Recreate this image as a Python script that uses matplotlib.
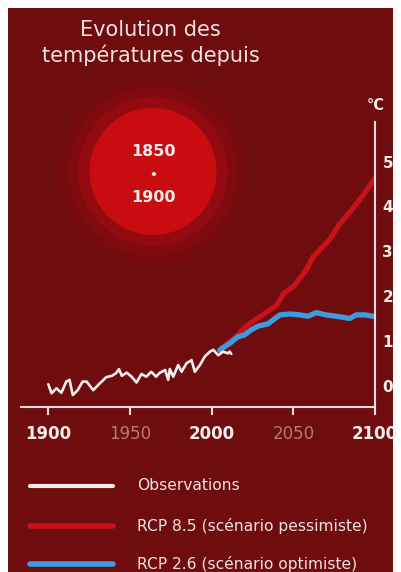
import matplotlib
matplotlib.use("Agg")
import matplotlib.pyplot as plt
from matplotlib.patches import Rectangle, Circle
from matplotlib.lines import Line2D

# ---- data -------------------------------------------------------------
obs_years = [1900, 1902, 1905, 1908, 1911, 1913, 1915, 1918, 1921, 1923.5,
             1927.5, 1931.5, 1935.5, 1939, 1941.5, 1943.3, 1945, 1948, 1951,
             1954, 1957, 1960, 1963, 1966, 1968, 1971.5, 1973.4, 1974.4,
             1976.5, 1979.5, 1981.6, 1984.6, 1987.7, 1989.7, 1992.8, 1995.8,
             1999, 2001, 2004, 2007, 2010, 2011, 2012]
obs_vals = [0.06, -0.14, -0.03, -0.13, 0.12, 0.16, -0.18, -0.07, 0.12, 0.12,
            -0.07, 0.08, 0.22, 0.25, 0.31, 0.40, 0.25, 0.32, 0.23,
            0.10, 0.29, 0.23, 0.34, 0.23, 0.31, 0.38, 0.16, 0.40,
            0.23, 0.49, 0.34, 0.53, 0.60, 0.34, 0.49, 0.68,
            0.79, 0.83, 0.71, 0.79, 0.75, 0.79, 0.74]

rcp85_years = [2005, 2010, 2015, 2020, 2024, 2030, 2034, 2040, 2044, 2050,
               2054, 2058, 2062, 2068, 2072, 2078, 2084, 2090, 2095, 2100]
rcp85_vals = [0.83, 0.98, 1.12, 1.32, 1.43, 1.58, 1.68, 1.83, 2.09, 2.24,
              2.42, 2.62, 2.90, 3.13, 3.28, 3.62, 3.88, 4.15, 4.40, 4.66]

rcp26_years = [2005, 2011, 2016, 2020, 2024, 2028.5, 2034.5, 2037.7, 2041.8,
               2048, 2054, 2059, 2064, 2070, 2078, 2084.5, 2088.5, 2094, 2100]
rcp26_vals = [0.83, 0.97, 1.12, 1.16, 1.27, 1.36, 1.41, 1.50, 1.61,
              1.63, 1.61, 1.58, 1.66, 1.61, 1.57, 1.53, 1.61, 1.61, 1.57]

x_ticks = [1900, 1950, 2000, 2050, 2100]
x_tick_bold = [True, False, True, False, True]
y_ticks = [0, 1, 2, 3, 4, 5]

series_labels = ["Observations",
                 "RCP 8.5 (scénario pessimiste)",
                 "RCP 2.6 (scénario optimiste)"]
title_lines = ["Evolution des", "températures depuis"]
badge_lines = ["1850", "•", "1900"]
unit_label = "°C"

# ---- style ------------------------------------------------------------
BG = "#6f0c0d"
WHITE = "#f6ecec"
AXIS = "#eedcdc"
MUTED = "#b57a7a"
RED = "#c8111a"
BLUE = "#3d9be0"

W, H = 401, 572
DPI = 100
fig = plt.figure(figsize=(W / DPI, H / DPI), dpi=DPI, facecolor="white")

# pixel-space layer for the backdrop, badge, title and legend
bg = fig.add_axes([0, 0, 1, 1], zorder=0)
bg.set_xlim(0, W)
bg.set_ylim(H, 0)
bg.axis("off")
bg.add_patch(Rectangle((7.5, 7.5), 385.5, H, facecolor=BG, edgecolor="none"))

# glowing badge
cx, cy = 153, 171.5
for r, c in [(95, "#750b0e"), (84, "#800b0f"), (74.5, "#930b10"), (63.5, "#c80c10")]:
    bg.add_patch(Circle((cx, cy), r, facecolor=c, edgecolor="none"))
for txt, yy, fs in zip(badge_lines, [152, 175, 197], [11.5, 9, 11.5]):
    bg.text(cx, yy, txt, color=WHITE, fontsize=fs, fontweight="bold",
            ha="center", va="center", family="DejaVu Sans")

for txt, yy in zip(title_lines, [29.5, 55]):
    bg.text(150.5, yy, txt, color="#f0e2e2", fontsize=15, ha="center",
            va="center", family="DejaVu Sans")

# legend
leg_y = [486, 525.5, 564]
leg_style = [(WHITE, 3.0), (RED, 4.0), (BLUE, 4.0)]
for lab, yy, (col, lw) in zip(series_labels, leg_y, leg_style):
    bg.add_line(Line2D([30, 113], [yy, yy], color=col, lw=lw,
                       solid_capstyle="round"))
    bg.text(137, yy, lab, color="#f0e2e2", fontsize=11.2, ha="left",
            va="center", family="DejaVu Sans")

# ---- chart axes -------------------------------------------------------
px_per_year = (375 - 48.3) / 200.0
px_per_deg = 44.8
x0_px, x1_px = 20.7, 375.0
y_bot_px, y_top_px = 407.0, 121.0
xlim = (1900 - (48.3 - x0_px) / px_per_year, 2100)
ylim = ((387 - y_bot_px) / px_per_deg, (387 - y_top_px) / px_per_deg)

ax = fig.add_axes([x0_px / W, 1 - y_bot_px / H,
                   (x1_px - x0_px) / W, (y_bot_px - y_top_px) / H], zorder=2)
ax.patch.set_alpha(0)
ax.set_xlim(*xlim)
ax.set_ylim(*ylim)

ax.plot(rcp85_years, rcp85_vals, color=RED, lw=3.8,
        solid_joinstyle="round", solid_capstyle="round", zorder=3)
ax.plot(rcp26_years, rcp26_vals, color=BLUE, lw=3.8,
        solid_joinstyle="round", solid_capstyle="round", zorder=4)
ax.plot(obs_years, obs_vals, color=WHITE, lw=1.9,
        solid_joinstyle="round", solid_capstyle="round", zorder=5)

for s in ["top", "left", "right"]:
    ax.spines[s].set_visible(False)
ax.spines["bottom"].set_color(AXIS)
ax.spines["bottom"].set_linewidth(1.5)

# vertical axis line on the right, reaching slightly below the x axis
ext = 8 / px_per_deg
ax.plot([2100, 2100], [ylim[0] - ext, ylim[1]], color=AXIS, lw=1.5,
        clip_on=False, solid_capstyle="butt", zorder=6)

ax.set_xticks(x_ticks)
ax.set_xticklabels([str(t) for t in x_ticks])
ax.tick_params(axis="x", direction="out", length=6, width=1.5, color=AXIS,
               pad=7, labelsize=12)
for lbl, bold in zip(ax.get_xticklabels(), x_tick_bold):
    lbl.set_color(WHITE if bold else MUTED)
    lbl.set_fontweight("bold" if bold else "normal")
ax.set_yticks([])

for v in y_ticks:
    ax.text(2100, v, str(v), transform=ax.transData, color=WHITE,
            fontsize=11, fontweight="bold", ha="left", va="center")
for t in ax.texts:
    t.set_x(2100 + 7.5 / px_per_year)

bg.text(375.5, 106, unit_label, color=WHITE, fontsize=10.5,
        fontweight="bold", ha="center", va="center")

fig.savefig("out.png", dpi=DPI, facecolor="white")
